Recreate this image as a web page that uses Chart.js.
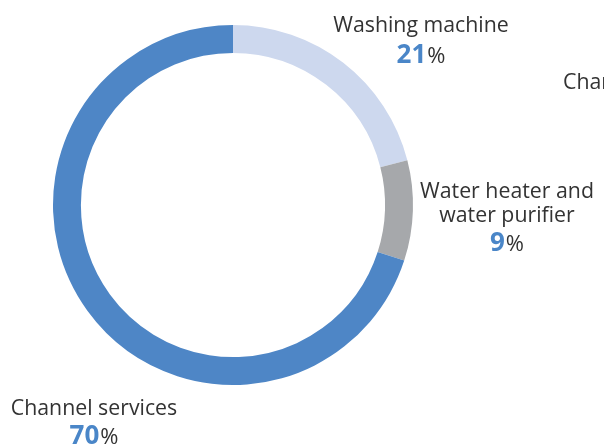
<!DOCTYPE html>
<html><head><meta charset="utf-8">
<script src="https://cdn.jsdelivr.net/npm/chart.js@4"></script>
<style>html,body{margin:0;padding:0;background:#fff;overflow:hidden}canvas{display:block}</style>
</head><body>
<canvas id="c" width="604" height="447"></canvas>
<script>
const categories = ["Washing machine", "Water heater and water purifier", "Channel services"];
const values = [21, 9, 70];
const colors = ["#cdd8ee", "#a6a8ab", "#4e86c6"];
// label layout: lines of text, center x, baseline of first line, baseline of number line
const labelLayout = [
  {lines: ["Washing machine"], x: 421, y: 32, ny: 63},
  {lines: ["Water heater and", "water purifier"], x: 507, y: 198, ny: 251},
  {lines: ["Channel services"], x: 94, y: 415, ny: 444}
];
const FONT = "'Open Sans', 'Noto Sans', sans-serif";

const labelPlugin = {
  id: 'labels',
  afterDraw(chart) {
    const ctx = chart.ctx;
    ctx.save();
    ctx.textBaseline = 'alphabetic';
    labelLayout.forEach((l, i) => {
      ctx.fillStyle = '#333333';
      ctx.font = "21.3px " + FONT;
      ctx.textAlign = 'center';
      let y = l.y;
      l.lines.forEach((t) => { ctx.fillText(t, l.x, y); y += 24; });
      y = l.ny;
      const num = String(chart.data.datasets[0].data[i]);
      ctx.font = "bold 26px " + FONT;
      const nw = ctx.measureText(num).width;
      ctx.font = "22px " + FONT;
      const pw = ctx.measureText('%').width;
      const gap = 1;
      const start = l.x - (nw + pw + gap) / 2;
      ctx.textAlign = 'left';
      ctx.font = "bold 26px " + FONT;
      ctx.fillStyle = '#4a86c8';
      ctx.fillText(num, start, y);
      ctx.font = "22px " + FONT;
      ctx.fillStyle = '#333333';
      ctx.fillText('%', start + nw + gap, y);
    });
    ctx.font = "21.3px " + FONT;
    ctx.fillStyle = '#333333';
    ctx.textAlign = 'left';
    ctx.fillText("Channel", 563, 89);
    ctx.restore();
  }
};

new Chart(document.getElementById('c'), {
  type: 'doughnut',
  data: {
    labels: categories,
    datasets: [{ data: values, backgroundColor: colors, borderWidth: 0 }]
  },
  options: {
    responsive: false,
    animation: false,
    cutout: '84.5%',
    layout: { padding: { left: 53, top: 25, right: 191, bottom: 62 } },
    plugins: { legend: { display: false }, tooltip: { enabled: false } }
  },
  plugins: [labelPlugin]
});
</script>
</body></html>
